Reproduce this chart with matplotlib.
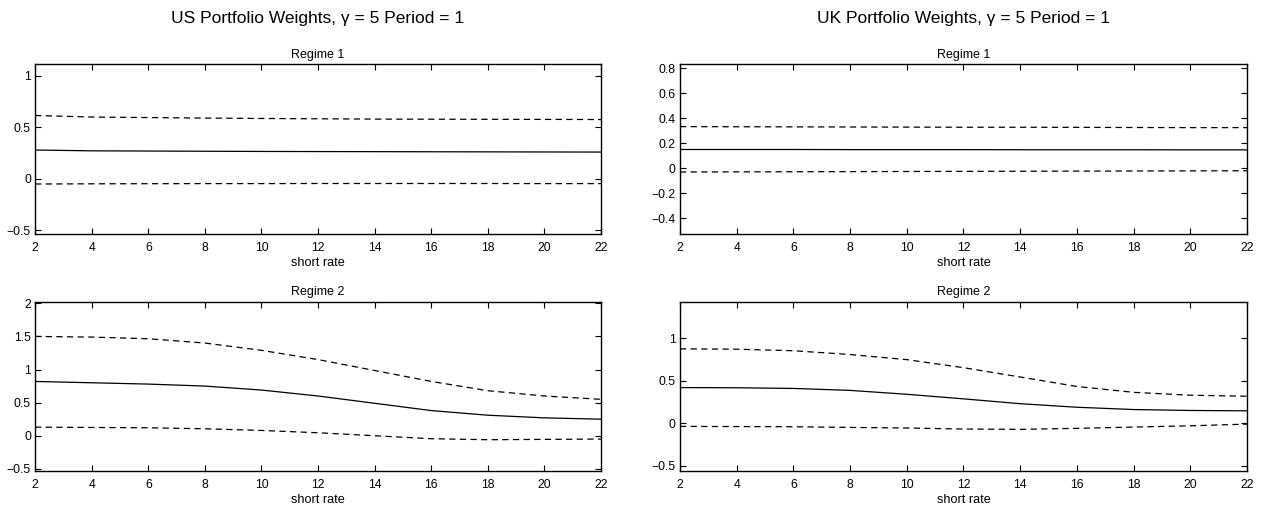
import matplotlib
matplotlib.use("Agg")
import matplotlib.pyplot as plt
from matplotlib.ticker import FuncFormatter

plt.rcParams["font.family"] = ["Liberation Sans", "DejaVu Sans"]

SHORT_RATE = [2, 4, 6, 8, 10, 12, 14, 16, 18, 20, 22]

# US, regime 1
US_R1_MID = [0.280, 0.272, 0.270, 0.268, 0.266, 0.265, 0.264, 0.263, 0.262, 0.261, 0.260]
US_R1_UP = [0.615, 0.600, 0.595, 0.590, 0.586, 0.583, 0.580, 0.579, 0.578, 0.577, 0.576]
US_R1_LO = [-0.050, -0.048, -0.047, -0.046, -0.046, -0.045, -0.045, -0.045, -0.045, -0.046, -0.046]

# US, regime 2
US_R2_MID = [0.82, 0.80, 0.78, 0.75, 0.69, 0.60, 0.49, 0.38, 0.31, 0.27, 0.25]
US_R2_UP = [1.50, 1.49, 1.465, 1.40, 1.29, 1.15, 0.985, 0.82, 0.68, 0.60, 0.55]
US_R2_LO = [0.13, 0.125, 0.12, 0.105, 0.08, 0.045, 0.00, -0.045, -0.06, -0.055, -0.05]

# UK, regime 1
UK_R1_MID = [0.150, 0.150, 0.150, 0.149, 0.149, 0.149, 0.148, 0.148, 0.148, 0.147, 0.147]
UK_R1_UP = [0.333, 0.332, 0.331, 0.330, 0.329, 0.328, 0.328, 0.327, 0.326, 0.325, 0.325]
UK_R1_LO = [-0.030, -0.029, -0.028, -0.027, -0.026, -0.025, -0.024, -0.023, -0.022, -0.021, -0.020]

# UK, regime 2
UK_R2_MID = [0.42, 0.418, 0.41, 0.387, 0.341, 0.287, 0.23, 0.188, 0.161, 0.15, 0.146]
UK_R2_UP = [0.877, 0.873, 0.855, 0.81, 0.75, 0.655, 0.545, 0.433, 0.364, 0.33, 0.318]
UK_R2_LO = [-0.038, -0.040, -0.042, -0.05, -0.057, -0.069, -0.073, -0.061, -0.046, -0.031, -0.011]

US_R1_YLIM = (-0.54, 1.11)
US_R2_YLIM = (-0.54, 2.02)
UK_R1_YLIM = (-0.53, 0.83)
UK_R2_YLIM = (-0.57, 1.43)

US_R1_YTICKS = [-0.5, 0, 0.5, 1]
US_R2_YTICKS = [-0.5, 0, 0.5, 1, 1.5, 2]
UK_R1_YTICKS = [-0.4, -0.2, 0, 0.2, 0.4, 0.6, 0.8]
UK_R2_YTICKS = [-0.5, 0, 0.5, 1]

X_TICKS = list(range(2, 23, 2))


def tick_fmt(value, pos):
    text = f"{value:g}"
    return text.replace("-", "\u2212")


def draw_panel(ax, mid, upper, lower, ylim, yticks, regime):
    ax.plot(SHORT_RATE, upper, color="black", linestyle=(0, (5, 3.5)), linewidth=0.9)
    ax.plot(SHORT_RATE, mid, color="black", linestyle="-", linewidth=0.9)
    ax.plot(SHORT_RATE, lower, color="black", linestyle=(0, (5, 3.5)), linewidth=0.9)

    ax.set_xlim(2, 22)
    ax.set_ylim(*ylim)
    ax.set_xticks(X_TICKS)
    ax.set_yticks(yticks)
    ax.xaxis.set_major_formatter(FuncFormatter(tick_fmt))
    ax.yaxis.set_major_formatter(FuncFormatter(tick_fmt))
    ax.tick_params(direction="in", length=4, width=0.8, labelsize=8.7,
                   top=True, right=True)
    ax.tick_params(axis="x", pad=5.5)
    ax.tick_params(axis="y", pad=3)
    for spine in ax.spines.values():
        spine.set_linewidth(1.0)
    ax.set_title(regime, fontsize=9, pad=5)
    ax.set_xlabel("short rate", fontsize=9.2, labelpad=2)


fig = plt.figure(figsize=(12.66, 5.09), dpi=100)
fig.patch.set_facecolor("white")

ax_us1 = fig.add_axes([0.0277, 0.5393, 0.4471, 0.334])
ax_us2 = fig.add_axes([0.0277, 0.0737, 0.4471, 0.333])
ax_uk1 = fig.add_axes([0.5371, 0.5393, 0.4479, 0.334])
ax_uk2 = fig.add_axes([0.5371, 0.0737, 0.4479, 0.333])

draw_panel(ax_us1, US_R1_MID, US_R1_UP, US_R1_LO, US_R1_YLIM, US_R1_YTICKS, "Regime 1")
draw_panel(ax_us2, US_R2_MID, US_R2_UP, US_R2_LO, US_R2_YLIM, US_R2_YTICKS, "Regime 2")
draw_panel(ax_uk1, UK_R1_MID, UK_R1_UP, UK_R1_LO, UK_R1_YLIM, UK_R1_YTICKS, "Regime 1")
draw_panel(ax_uk2, UK_R2_MID, UK_R2_UP, UK_R2_LO, UK_R2_YLIM, UK_R2_YTICKS, "Regime 2")

fig.text(0.2512, 0.963, "US Portfolio Weights, \u03b3 = 5 Period = 1",
         ha="center", va="center", fontsize=12.5)
fig.text(0.7610, 0.963, "UK Portfolio Weights, \u03b3 = 5 Period = 1",
         ha="center", va="center", fontsize=12.5)

fig.savefig("out.png", dpi=100)
plt.close(fig)
